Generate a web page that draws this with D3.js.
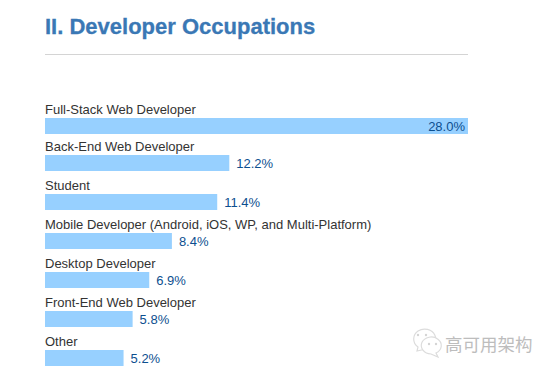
<!DOCTYPE html>
<html><head><meta charset="utf-8">
<script src="https://cdn.jsdelivr.net/npm/d3@7"></script>
<style>html,body{margin:0;padding:0;background:#fff}svg{display:block}text{font-family:"Liberation Sans",Arial,sans-serif}</style>
</head><body><svg id="c" width="550" height="372"></svg>
<script>
const categories=["Full-Stack Web Developer","Back-End Web Developer","Student","Mobile Developer (Android, iOS, WP, and Multi-Platform)","Desktop Developer","Front-End Web Developer","Other"];
const values=[28.0,12.2,11.4,8.4,6.9,5.8,5.2];
const title="II. Developer Occupations";
const watermark="高可用架构";
const svg=d3.select("#c");
const x=d3.scaleLinear().domain([0,28]).range([45,468]);
const y=d3.scaleLinear().domain([0,1,6]).range([118,155,350]);
svg.append("text").attr("x",45).attr("y",34).attr("font-size",22).attr("font-weight","bold").attr("fill","#3a78b5").attr("stroke","#3a78b5").attr("stroke-width",0.3).text(title);
svg.append("line").attr("x1",45).attr("x2",468).attr("y1",54.5).attr("y2",54.5).attr("stroke","#d4d4d4");
const g=svg.selectAll("g.r").data(categories).join("g").attr("class","r");
g.append("text").attr("x",45).attr("y",(d,i)=>y(i)-4).attr("font-size",13).attr("fill","#333").text(d=>d);
g.append("rect").attr("x",x(0)).attr("y",(d,i)=>y(i)).attr("height",16).attr("width",(d,i)=>x(values[i])-x(0)).attr("fill","#97d0ff");
g.append("text").attr("x",(d,i)=>i==0?x(values[i])-3:x(values[i])+7).attr("y",(d,i)=>y(i)+13).attr("text-anchor",(d,i)=>i==0?"end":"start").attr("font-size",13).attr("fill","#0d4f8f").text((d,i)=>values[i].toFixed(1)+"%");
const w=svg.append("g").attr("fill","#fff").attr("stroke","#dcdcdc").attr("stroke-width",1.2);
w.append("path").attr("d","M417 351 l1 -4 a11 10 0 1 1 8 2 z");
w.append("path").attr("d","M438 357 l-2 -4 a10 8.5 0 1 0 -5 1 z");
const e=svg.append("g").attr("fill","#d4d4d4");
[[418,335],[426,335],[429,344],[436,344]].forEach(p=>e.append("circle").attr("cx",p[0]).attr("cy",p[1]).attr("r",1.2));
svg.append("text").attr("x",445).attr("y",351).attr("font-size",17.5).attr("fill","#bdbdbd").attr("style",'font-family:"Noto Sans CJK SC"').text(watermark);
</script></body></html>
